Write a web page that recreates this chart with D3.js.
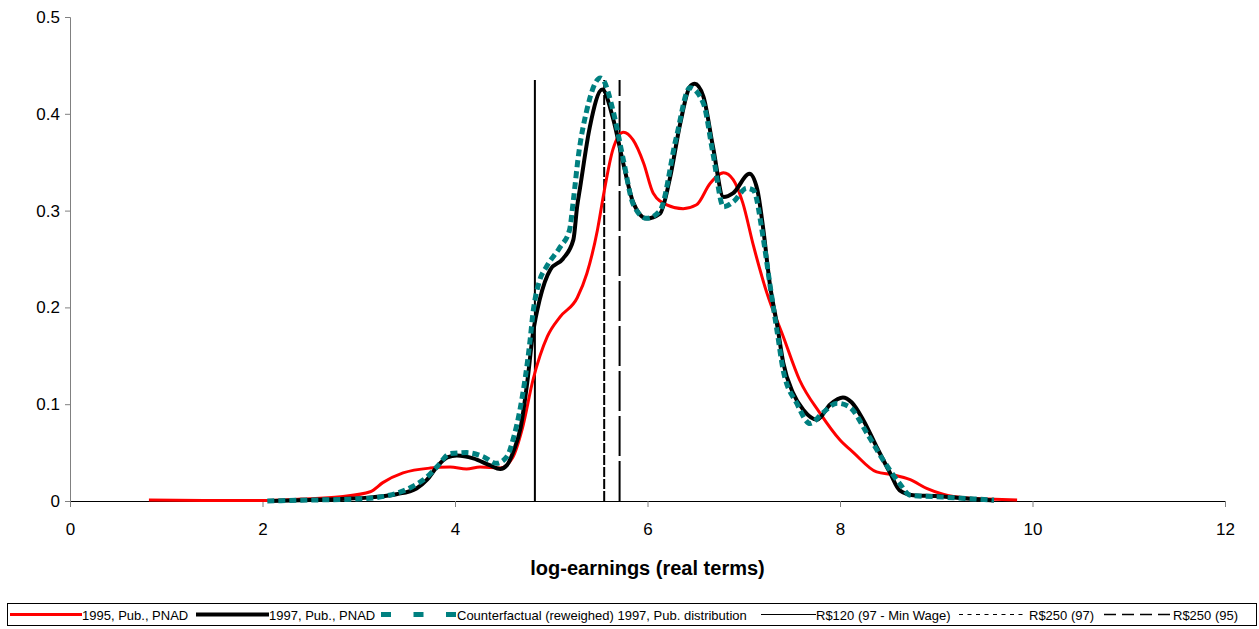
<!DOCTYPE html>
<html>
<head>
<meta charset="utf-8">
<script src="https://cdn.jsdelivr.net/npm/d3@7"></script>
<style>
  body { margin: 0; background: #fff; }
  svg { font-family: "Liberation Sans", Arial, sans-serif; }
</style>
</head>
<body>
<div class="chart"></div>
<script>
// density estimates: [log-earnings, density]
const pnad1995 = [[0.82,0.001],[1.5,0.0005],[2.0,0.0005],[2.4,0.002],[2.81,0.0045],[3.12,0.0096],[3.25,0.019],
  [3.46,0.029],[3.74,0.034],[3.95,0.035],[4.12,0.033],[4.26,0.035],[4.47,0.034],[4.6,0.045],[4.7,0.075],
  [4.81,0.125],[4.96,0.17],[5.09,0.19],[5.27,0.21],[5.37,0.235],[5.48,0.28],[5.55,0.32],[5.64,0.363],
  [5.75,0.381],[5.85,0.373],[5.96,0.349],[6.06,0.318],[6.2,0.306],[6.37,0.302],[6.51,0.306],[6.65,0.328],
  [6.79,0.339],[6.89,0.332],[6.99,0.308],[7.1,0.264],[7.24,0.215],[7.41,0.17],[7.58,0.125],[7.79,0.091],
  [8.0,0.063],[8.14,0.05],[8.38,0.03],[8.55,0.027],[8.73,0.022],[8.9,0.013],[9.07,0.007],[9.32,0.003],
  [9.53,0.002],[9.84,0.001]];

const pnad1997 = [[2.08,0],[2.5,0.001],[2.81,0.002],[3.15,0.004],[3.39,0.007],[3.6,0.013],[3.71,0.022],
  [3.81,0.035],[3.92,0.045],[4.02,0.047],[4.19,0.044],[4.36,0.037],[4.47,0.033],[4.54,0.037],[4.61,0.052],
  [4.68,0.075],[4.75,0.122],[4.81,0.173],[4.88,0.208],[4.99,0.239],[5.12,0.25],[5.23,0.27],[5.27,0.305],
  [5.3,0.324],[5.4,0.386],[5.53,0.425],[5.64,0.396],[5.75,0.348],[5.85,0.309],[5.99,0.292],[6.13,0.297],
  [6.23,0.332],[6.34,0.39],[6.44,0.428],[6.49,0.431],[6.58,0.418],[6.68,0.366],[6.79,0.314],[6.89,0.318],
  [7.06,0.338],[7.14,0.322],[7.2,0.283],[7.27,0.225],[7.35,0.18],[7.41,0.143],[7.51,0.112],[7.62,0.094],
  [7.76,0.084],[7.9,0.1],[8.03,0.107],[8.12,0.102],[8.24,0.084],[8.38,0.056],[8.52,0.029],[8.62,0.011],
  [8.76,0.006],[9.04,0.005],[9.25,0.003],[9.6,0.0005]];

const counterfactual = [[2.05,0],[2.5,0.001],[2.98,0.002],[3.32,0.006],[3.56,0.015],[3.7,0.024],[3.81,0.035],
  [3.95,0.049],[4.12,0.05],[4.29,0.046],[4.43,0.039],[4.54,0.046],[4.61,0.066],[4.68,0.097],[4.78,0.166],
  [4.81,0.194],[4.88,0.228],[4.95,0.242],[5.09,0.262],[5.19,0.28],[5.23,0.311],[5.28,0.355],[5.37,0.404],
  [5.51,0.437],[5.54,0.435],[5.64,0.404],[5.75,0.352],[5.85,0.307],[5.99,0.292],[6.13,0.3],[6.3,0.376],
  [6.44,0.427],[6.58,0.411],[6.68,0.359],[6.79,0.304],[6.89,0.309],[7.03,0.323],[7.1,0.321],[7.2,0.273],
  [7.27,0.225],[7.35,0.173],[7.41,0.135],[7.55,0.101],[7.69,0.08],[7.82,0.091],[7.97,0.101],[8.1,0.097],
  [8.28,0.07],[8.45,0.042],[8.62,0.018],[8.73,0.006],[9.07,0.004],[9.6,0.001]];

// reference wage lines (log of R$ values), drawn up to 0.435
const refLines = [
  { x: 4.83, label: "R$120 (97 - Min Wage)", dash: null, legendDash: null },
  { x: 5.55, label: "R$250 (97)", dash: "10,2", legendDash: "4,4.5" },
  { x: 5.71, label: "R$250 (95)", dash: "40,5", legendDash: "12,6" }
];
const refTop = 0.435;

const xTicks = [0, 2, 4, 6, 8, 10, 12];
const yTicks = [0, 0.1, 0.2, 0.3, 0.4, 0.5];

const W = 1259, H = 629;
const m = { top: 17, right: 34, bottom: 128, left: 70 };
const w = W - m.left - m.right, h = H - m.top - m.bottom;

const svg = d3.select(".chart").append("svg").attr("width", W).attr("height", H);
const g = svg.append("g").attr("transform", `translate(${m.left},${m.top})`);

const x = d3.scaleLinear().domain([0, 12]).range([0, w]);
const y = d3.scaleLinear().domain([0, 0.5]).range([h, 0]);

// y axis (gray)
const ya = g.append("g").call(d3.axisLeft(y).tickValues(yTicks).tickSize(5).tickFormat(d => d === 0 ? "0" : d3.format(".1f")(d)));
ya.select(".domain").attr("stroke", "#808080").attr("stroke-width", 1);
ya.selectAll(".tick line").attr("stroke", "#808080");
ya.selectAll("text").attr("font-size", 17).attr("fill", "#000").attr("x", -10);

// x axis
const xa = g.append("g").attr("transform", `translate(0,${h})`)
  .call(d3.axisBottom(x).tickValues(xTicks).tickSize(6).tickSizeOuter(0));
xa.select(".domain").attr("stroke", "#000");
xa.selectAll(".tick line").attr("stroke", "#808080");
xa.selectAll("text").attr("font-size", 17).attr("fill", "#000").attr("dy", "1.45em");

g.append("text").attr("x", x(6)).attr("y", h + 74).attr("text-anchor", "middle")
  .attr("font-size", 20).attr("font-weight", "bold").text("log-earnings (real terms)");

// vertical reference lines
g.selectAll(".ref").data(refLines).join("line")
  .attr("x1", d => x(d.x)).attr("x2", d => x(d.x))
  .attr("y1", y(0)).attr("y2", y(refTop))
  .attr("stroke", "#000").attr("stroke-width", 2)
  .attr("stroke-dasharray", d => d.dash);

const line = d3.line().x(d => x(d[0])).y(d => y(d[1])).curve(d3.curveMonotoneX);

g.append("path").datum(pnad1995).attr("fill", "none").attr("stroke", "#ff0000").attr("stroke-width", 3).attr("d", line);
g.append("path").datum(pnad1997).attr("fill", "none").attr("stroke", "#000").attr("stroke-width", 4).attr("d", line);
g.append("path").datum(counterfactual).attr("fill", "none").attr("stroke", "#008080").attr("stroke-width", 5)
  .attr("stroke-dasharray", "7,4").attr("d", line);

// legend
const lg = svg.append("g");
lg.append("rect").attr("x", 7.5).attr("y", 603.5).attr("width", 1249).attr("height", 22)
  .attr("fill", "#fff").attr("stroke", "#000").attr("stroke-width", 1);

const legendItems = [
  { x0: 10, x1: 82, tx: 82, label: "1995, Pub., PNAD", color: "#ff0000", width: 3, dash: null },
  { x0: 196, x1: 269, tx: 269, label: "1997, Pub., PNAD", color: "#000", width: 4, dash: null },
  { x0: 381, x1: 457, tx: 457, label: "Counterfactual (reweighed) 1997, Pub. distribution", color: "#008080", width: 5, dash: "10,22.5" },
  { x0: 761, x1: 816, tx: 816, label: refLines[0].label, color: "#000", width: 1, dash: refLines[0].legendDash },
  { x0: 959, x1: 1027, tx: 1029, label: refLines[1].label, color: "#000", width: 1.2, dash: refLines[1].legendDash },
  { x0: 1104, x1: 1173, tx: 1173, label: refLines[2].label, color: "#000", width: 1.5, dash: refLines[2].legendDash }
];
legendItems.forEach(d => {
  lg.append("line").attr("x1", d.x0).attr("x2", d.x1).attr("y1", 614.5).attr("y2", 614.5)
    .attr("stroke", d.color).attr("stroke-width", d.width).attr("stroke-dasharray", d.dash);
  lg.append("text").attr("x", d.tx).attr("y", 619.5).attr("font-size", 13).text(d.label);
});
</script>
</body>
</html>
